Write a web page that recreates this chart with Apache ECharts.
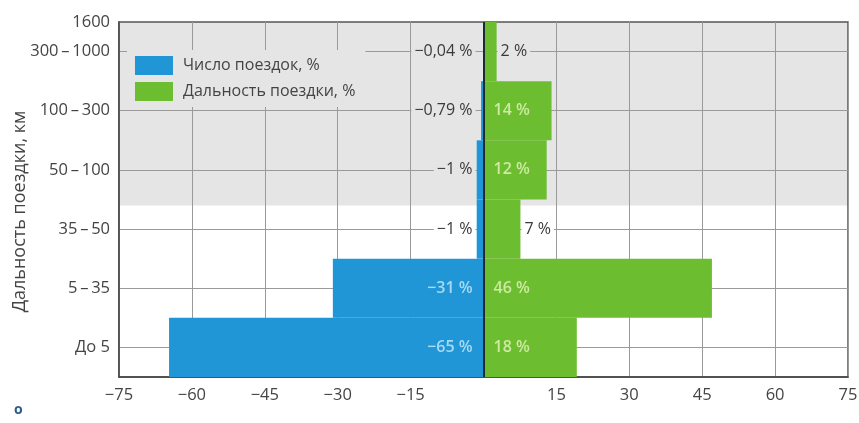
<!DOCTYPE html>
<html>
<head>
<meta charset="utf-8">
<script src="https://cdn.jsdelivr.net/npm/echarts@6/dist/echarts.min.js"></script>
<style>
  html, body { margin: 0; padding: 0; background: #fff; }
  #chart { width: 859px; height: 423px; }
</style>
</head>
<body>
<div id="chart"></div>
<script>
// категории снизу вверх
const categories = ['До 5', '5\u2009–\u200935', '35\u2009–\u200950', '50\u2009–\u2009100', '100\u2009–\u2009300', '300\u2009–\u20091000'];
const topLabel = '1600';
const tripsValues = [-64.7, -31, -1.4, -1.4, -0.5, -0.04];
const tripsLabels = ['−65 %', '−31 %', '−1 %', '−1 %', '−0,79 %', '−0,04 %'];
const distValues = [19.2, 47, 7.6, 13, 14, 2.7];
const distLabels = ['18 %', '46 %', '7 %', '12 %', '14 %', '2 %'];
const xTicks = [-75, -60, -45, -30, -15, 0, 15, 30, 45, 60, 75];

const BLUE = '#2196d6';
const GREEN = '#6cbd30';
const GRAY = '#e5e5e5';
const FONT = 'Open Sans';

let myChart = echarts.init(document.getElementById('chart'));

// маленькие значения подписываются тёмным текстом с подложкой под цвет фона
const bgFor = (i) => (i >= 3 ? GRAY : '#fff');

const tripsData = tripsValues.map((v, i) => {
  const small = Math.abs(v) < 10;
  return {
    value: v,
    label: {
      formatter: tripsLabels[i],
      color: small ? '#3a3a3a' : '#a6daf4',
      fontWeight: small ? 'normal' : 600,
      backgroundColor: small ? bgFor(i) : 'transparent',
      padding: [2, 3]
    }
  };
});

const distData = distValues.map((v, i) => {
  const small = v < 10;
  return {
    value: v,
    label: small
      ? { formatter: distLabels[i], position: 'right', distance: 1, color: '#3a3a3a',
          backgroundColor: bgFor(i), padding: [2, 3] }
      : { formatter: distLabels[i], position: 'insideLeft', distance: 10,
          color: '#cde9a2', fontWeight: 600 }
  };
});

myChart.setOption({
  animation: false,
  textStyle: { fontFamily: FONT },
  title: {
    text: 'o',
    left: 9,
    top: 398,
    textStyle: { fontSize: 14, color: '#2b5c8c', fontWeight: 'bold', fontFamily: FONT }
  },
  grid: {
    left: 119, right: 11, top: 22, bottom: 46,
    outerBoundsMode: 'none',
    containLabel: false,
    show: true, borderColor: '#555', borderWidth: 1.5
  },
  legend: {
    orient: 'vertical',
    left: 127,
    top: 50,
    padding: [6, 10, 6, 8],
    backgroundColor: GRAY,
    itemWidth: 38,
    itemHeight: 19,
    itemGap: 7,
    icon: 'rect',
    textStyle: { fontSize: 16, color: '#444', fontFamily: FONT, padding: [0, 0, 0, 5] },
    data: ['Число поездок, %', 'Дальность поездки, %']
  },
  xAxis: {
    type: 'value',
    min: xTicks[0],
    max: xTicks[xTicks.length - 1],
    interval: 15,
    axisLine: { show: true, lineStyle: { color: '#444', width: 1.5 } },
    axisTick: { show: false },
    splitLine: { lineStyle: { color: '#9a9a9a', width: 1 } },
    axisLabel: {
      margin: 10,
      fontSize: 16.5,
      color: '#444',
      formatter: (v) => (v === 0 ? '' : String(v).replace('-', '−'))
    }
  },
  yAxis: [{
    type: 'category',
    data: categories,
    boundaryGap: true,
    name: 'Дальность поездки, км',
    nameLocation: 'middle',
    nameRotate: 90,
    nameGap: 90,
    nameMoveOverlap: false,
    nameTextStyle: { fontSize: 18, color: '#444', fontFamily: FONT, padding: [0, 24, 0, 0] },
    axisLine: { show: true, onZero: false, lineStyle: { color: '#444', width: 1.5 } },
    axisTick: { show: false },
    splitLine: { show: true, alignWithLabel: true, lineStyle: { color: '#9a9a9a', width: 1 } },
    axisLabel: { margin: 9, fontSize: 16.5, color: '#444' }
  }, {
    type: 'value',
    position: 'left',
    min: 0,
    max: 6,
    interval: 6,
    axisLine: { show: false },
    axisTick: { show: false },
    splitLine: { show: false },
    axisLabel: {
      margin: 9, fontSize: 16.5, color: '#444',
      formatter: (v) => (v === 6 ? topLabel : '')
    }
  }],
  series: [{
    // серая подложка верхних категорий
    type: 'line',
    yAxisIndex: 1,
    data: [],
    silent: true,
    markArea: {
      silent: true,
      z: -1,
      itemStyle: { color: GRAY },
      data: [[{ yAxis: 2.9 }, { yAxis: 6 }]]
    }
  }, {
    name: 'Число поездок, %',
    type: 'bar',
    stack: 'total',
    barCategoryGap: 0,
    itemStyle: { color: BLUE },
    label: {
      show: true,
      position: 'insideRight',
      distance: 8,
      fontSize: 16,
      fontFamily: FONT
    },
    data: tripsData,
    markLine: {
      silent: true,
      symbol: 'none',
      label: { show: false },
      lineStyle: { color: '#1c2a33', width: 2, type: 'solid' },
      data: [{ xAxis: 0 }]
    }
  }, {
    name: 'Дальность поездки, %',
    type: 'bar',
    stack: 'total',
    barCategoryGap: 0,
    itemStyle: { color: GREEN },
    label: {
      show: true,
      fontSize: 16,
      fontFamily: FONT
    },
    data: distData
  }]
});

window.addEventListener('resize', function() {
  myChart.resize();
});
</script>
</body>
</html>
